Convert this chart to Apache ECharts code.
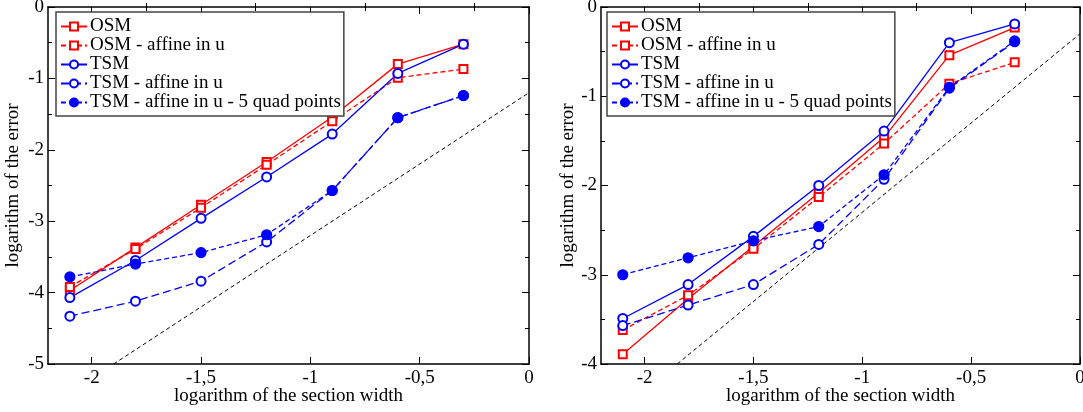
<!DOCTYPE html>
<html><head><meta charset="utf-8">
<script src="https://cdn.jsdelivr.net/npm/echarts@6/dist/echarts.min.js"></script>
<style>html,body{margin:0;padding:0;background:#fff}#c{width:1083px;height:412px}</style>
</head><body><div id="c"></div>
<script>
const xVals = [-2.1, -1.8, -1.5, -1.2, -0.9, -0.6, -0.3];
const seriesNames = ['OSM', 'OSM - affine in u', 'TSM', 'TSM - affine in u', 'TSM - affine in u - 5 quad points'];
const xMajorTicks = [-2, -1.5, -1, -0.5, 0];
const xMinorTicks = [-1.75, -1.25, -0.75, -0.25];
// left panel
const osmL    = [-3.97, -3.37, -2.77, -2.17, -1.54, -0.80, -0.52];
const osmAffL = [-3.92, -3.39, -2.81, -2.21, -1.60, -0.99, -0.87];
const tsmL    = [-4.07, -3.55, -2.96, -2.38, -1.78, -0.93, -0.52];
const tsmAffL = [-4.33, -4.12, -3.84, -3.29, -2.57, -1.55, -1.24];
const tsm5L   = [-3.78, -3.60, -3.44, -3.19, -2.57, -1.55, -1.24];
const refL    = [[-1.9, -5], [0, -1.2]];
// right panel
const osmR    = [-3.89, -3.27, -2.68, -2.08, -1.46, -0.54, -0.23];
const osmAffR = [-3.62, -3.23, -2.71, -2.13, -1.53, -0.86, -0.62];
const tsmR    = [-3.49, -3.11, -2.57, -2.00, -1.39, -0.40, -0.19];
const tsmAffR = [-3.57, -3.34, -3.11, -2.66, -1.93, -0.91, -0.39];
const tsm5R   = [-3.00, -2.81, -2.62, -2.46, -1.88, -0.90, -0.38];
const refR    = [[-1.85, -4], [0, -0.3]];

const FONT = 'Liberation Serif';
const RED = '#ff0000', BLUE = '#0000ff';
const pair = (ys) => xVals.map((x, i) => [x, ys[i]]);
const fmt = (v) => String(v).replace('.', ',');

const chart = echarts.init(document.getElementById('c'), null, {renderer: 'canvas'});

const grids = [
  {left: 48, top: 7, width: 481, height: 357, outerBoundsMode: 'none', containLabel: false},
  {left: 601, top: 7, width: 479, height: 357, outerBoundsMode: 'none', containLabel: false}
];
const yRanges = [[-5, 0], [-4, 0]];

const xAxes = [], yAxes = [];
grids.forEach((g, gi) => {
  xAxes.push({
    type: 'value', gridIndex: gi, position: 'bottom', min: -2.2, max: 0,
    name: 'logarithm of the section width', nameLocation: 'middle', nameGap: 23, nameMoveOverlap: false,
    nameTextStyle: {fontFamily: FONT, fontSize: 19, color: '#000'},
    axisLine: {show: true, onZero: false, lineStyle: {color: '#000', width: 1.5}},
    axisTick: {show: true, inside: true, length: 7, customValues: xMajorTicks, lineStyle: {color: '#000', width: 1}},
    axisLabel: {customValues: xMajorTicks, formatter: fmt, fontFamily: FONT, fontSize: 19, color: '#000', margin: 5},
    splitLine: {show: false}
  });
  xAxes.push({
    type: 'value', gridIndex: gi, position: 'bottom', min: -2.2, max: 0,
    axisLine: {show: false},
    axisTick: {show: true, inside: true, length: 4, customValues: xMinorTicks, lineStyle: {color: '#000', width: 1}},
    axisLabel: {show: false}, splitLine: {show: false}
  });
  xAxes.push({
    type: 'value', gridIndex: gi, position: 'top', min: -2.2, max: 0,
    axisLine: {show: true, onZero: false, lineStyle: {color: '#000', width: 1.5}},
    axisTick: {show: true, inside: true, length: 7, customValues: xMajorTicks, lineStyle: {color: '#000', width: 1}},
    axisLabel: {show: false}, splitLine: {show: false}
  });
  xAxes.push({
    type: 'value', gridIndex: gi, position: 'top', min: -2.2, max: 0,
    axisLine: {show: false},
    axisTick: {show: true, inside: true, length: 4, customValues: xMinorTicks, lineStyle: {color: '#000', width: 1}},
    axisLabel: {show: false}, splitLine: {show: false}
  });
  yAxes.push({
    type: 'value', gridIndex: gi, position: 'left', min: yRanges[gi][0], max: yRanges[gi][1], interval: 1,
    name: 'logarithm of the error', nameLocation: 'middle', nameGap: gi === 0 ? 25 : 23,
    nameTextStyle: {fontFamily: FONT, fontSize: 19, color: '#000'},
    axisLine: {show: true, onZero: false, lineStyle: {color: '#000', width: 1.5}},
    axisTick: {show: true, inside: true, length: 7, lineStyle: {color: '#000', width: 1}},
    minorTick: {show: true, splitNumber: 2, length: 4, lineStyle: {color: '#000', width: 1}},
    axisLabel: {fontFamily: FONT, fontSize: 19, color: '#000', margin: 4, formatter: fmt},
    splitLine: {show: false}, minorSplitLine: {show: false}
  });
  yAxes.push({
    type: 'value', gridIndex: gi, position: 'right', min: yRanges[gi][0], max: yRanges[gi][1], interval: 1,
    axisLine: {show: true, onZero: false, lineStyle: {color: '#000', width: 1.5}},
    axisTick: {show: true, inside: true, length: 7, lineStyle: {color: '#000', width: 1}},
    minorTick: {show: true, splitNumber: 2, length: 4, lineStyle: {color: '#000', width: 1}},
    axisLabel: {show: false}, splitLine: {show: false}, minorSplitLine: {show: false}
  });
});

const styles = [
  {color: RED, type: 'solid', symbol: 'emptyRect', size: 8},
  {color: RED, type: [5, 3], symbol: 'emptyRect', size: 8},
  {color: BLUE, type: 'solid', symbol: 'emptyCircle', size: 9},
  {color: BLUE, type: [8, 4], symbol: 'emptyCircle', size: 9},
  {color: BLUE, type: [5, 3], symbol: 'circle', size: 10}
];
const panelData = [[osmL, osmAffL, tsmL, tsmAffL, tsm5L], [osmR, osmAffR, tsmR, tsmAffR, tsm5R]];
const refs = [refL, refR];

const series = [];
panelData.forEach((arrs, gi) => {
  series.push({
    type: 'line', name: 'ref' + gi, xAxisIndex: gi * 4, yAxisIndex: gi * 2,
    data: refs[gi], showSymbol: false, silent: true,
    lineStyle: {color: '#000', width: 1, type: [4, 3]}, z: 1
  });
  arrs.forEach((ys, si) => {
    const s = styles[si];
    series.push({
      type: 'line', name: seriesNames[si], xAxisIndex: gi * 4, yAxisIndex: gi * 2,
      data: pair(ys), symbol: s.symbol, symbolSize: s.size, showSymbol: true,
      color: s.color,
      lineStyle: {color: s.color, width: 1.3, type: s.type},
      itemStyle: {color: s.color, borderColor: s.color, borderWidth: 1.2},
      z: 3
    });
  });
});

const legendCommon = {
  orient: 'vertical', data: seriesNames, itemWidth: 26, itemHeight: 10, itemGap: 0,
  padding: [5, 3, 4, 4], backgroundColor: '#fff', borderColor: '#444', borderWidth: 1.5,
  borderRadius: 0,
  textStyle: {fontFamily: FONT, fontSize: 19, color: '#000', lineHeight: 17, padding: [0, 0, 0, -2]},
  selectedMode: false
};
const option = {
  animation: false,
  grid: grids,
  xAxis: xAxes,
  yAxis: yAxes,
  legend: [
    Object.assign({}, legendCommon, {left: 56, top: 12}),
    Object.assign({}, legendCommon, {left: 607, top: 12})
  ],
  series: series
};
chart.setOption(option);
</script>
</body></html>
